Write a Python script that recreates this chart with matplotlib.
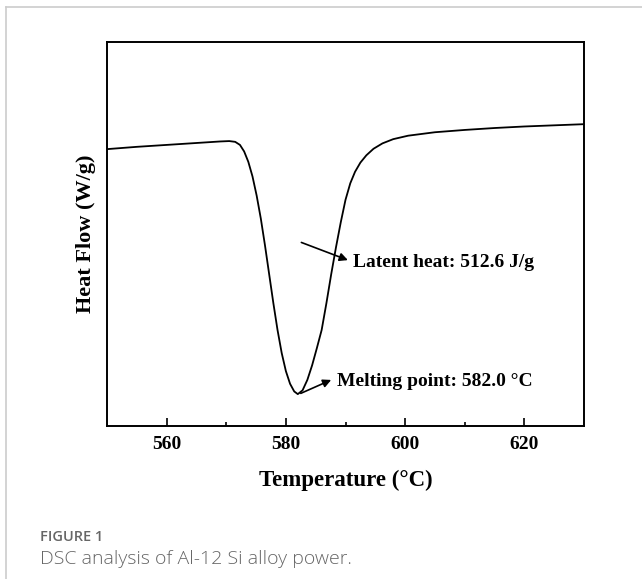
import matplotlib
matplotlib.use("Agg")
import matplotlib.pyplot as plt
from matplotlib.lines import Line2D

# DSC curve (y in arbitrary units, 0 = bottom of axes)
temp = [550, 555, 560, 565, 569, 570.5, 571.5, 572.3, 573.0, 573.7, 574.4,
        575.1, 575.8, 576.5, 577.2, 577.9, 578.6, 579.3, 580.0, 580.7, 581.4,
        582.0, 582.8, 583.6, 584.4, 585.2, 586.0, 586.8, 587.6, 588.4, 589.2,
        590.0, 590.8, 591.6, 592.5, 593.5, 594.7, 596.2, 598.0, 600.5,
        605, 610, 615, 620, 625, 630]
heat_flow = [0.721, 0.727, 0.732, 0.737, 0.741, 0.742, 0.740, 0.732, 0.715, 0.688, 0.650,
             0.600, 0.540, 0.470, 0.395, 0.320, 0.250, 0.190, 0.143, 0.110, 0.090,
             0.083, 0.093, 0.120, 0.158, 0.203, 0.250, 0.320, 0.395, 0.465, 0.530,
             0.589, 0.632, 0.662, 0.686, 0.705, 0.722, 0.736, 0.747, 0.756,
             0.765, 0.771, 0.776, 0.780, 0.783, 0.786]

latent_label = "Latent heat: 512.6 J/g"
melt_label = "Melting point: 582.0 \u00b0C"
xticks_major = [560, 580, 600, 620]
xticks_minor = [570, 590, 610]

plt.rcParams['font.family'] = ['Liberation Serif', 'DejaVu Serif']

fig = plt.figure(figsize=(6.42, 5.79), dpi=100)
W, H = 642, 579
ax = fig.add_axes([107 / W, 1 - 426 / H, (584 - 107) / W, (426 - 42) / H])

ax.plot(temp, heat_flow, color='black', lw=1.3)
ax.set_xlim(550, 630)
ax.set_ylim(0, 1)

ax.set_xticks(xticks_major)
ax.set_xticks(xticks_minor, minor=True)
ax.tick_params(axis='x', which='major', direction='in', length=6, width=1.2,
               labelsize=14, pad=7)
ax.tick_params(axis='x', which='minor', direction='in', length=3, width=1.2)
ax.set_yticks([])
for lbl in ax.get_xticklabels():
    lbl.set_fontweight('bold')
for s in ax.spines.values():
    s.set_linewidth(1.4)

ax.set_xlabel("Temperature (\u00b0C)", fontsize=16.5, fontweight='bold', labelpad=12)
ax.set_ylabel("Heat Flow (W/g)", fontsize=16, fontweight='bold', labelpad=8)

arrow = dict(arrowstyle='-|>', color='black', lw=1.2, mutation_scale=12,
             shrinkA=0, shrinkB=0)
ax.annotate("", xy=(590.4, 0.432), xytext=(582.6, 0.478), arrowprops=arrow)
ax.text(591.3, 0.427, latent_label, fontsize=14, fontweight='bold', va='center')

ax.annotate("", xy=(587.6, 0.12), xytext=(582.5, 0.085), arrowprops=arrow)
ax.text(588.6, 0.115, melt_label, fontsize=14, fontweight='bold', va='center')

# page frame and caption
fig.add_artist(Line2D([6 / W, 1], [1 - 7 / H, 1 - 7 / H], color='#cccccc', lw=1.2))
fig.add_artist(Line2D([6 / W, 6 / W], [0, 1 - 7 / H], color='#cccccc', lw=1.2))
fig.text(40 / W, 1 - 537 / H, "FIGURE 1", fontsize=10.5, color='#666666',
         family=['Open Sans', 'DejaVu Sans'], fontweight='semibold', va='center')
fig.text(40 / W, 1 - 559 / H, "DSC analysis of Al-12 Si alloy power.", fontsize=14,
         color='#666666', family=['Open Sans', 'DejaVu Sans'], fontweight='light',
         va='center')

fig.savefig("out.png", dpi=100)
